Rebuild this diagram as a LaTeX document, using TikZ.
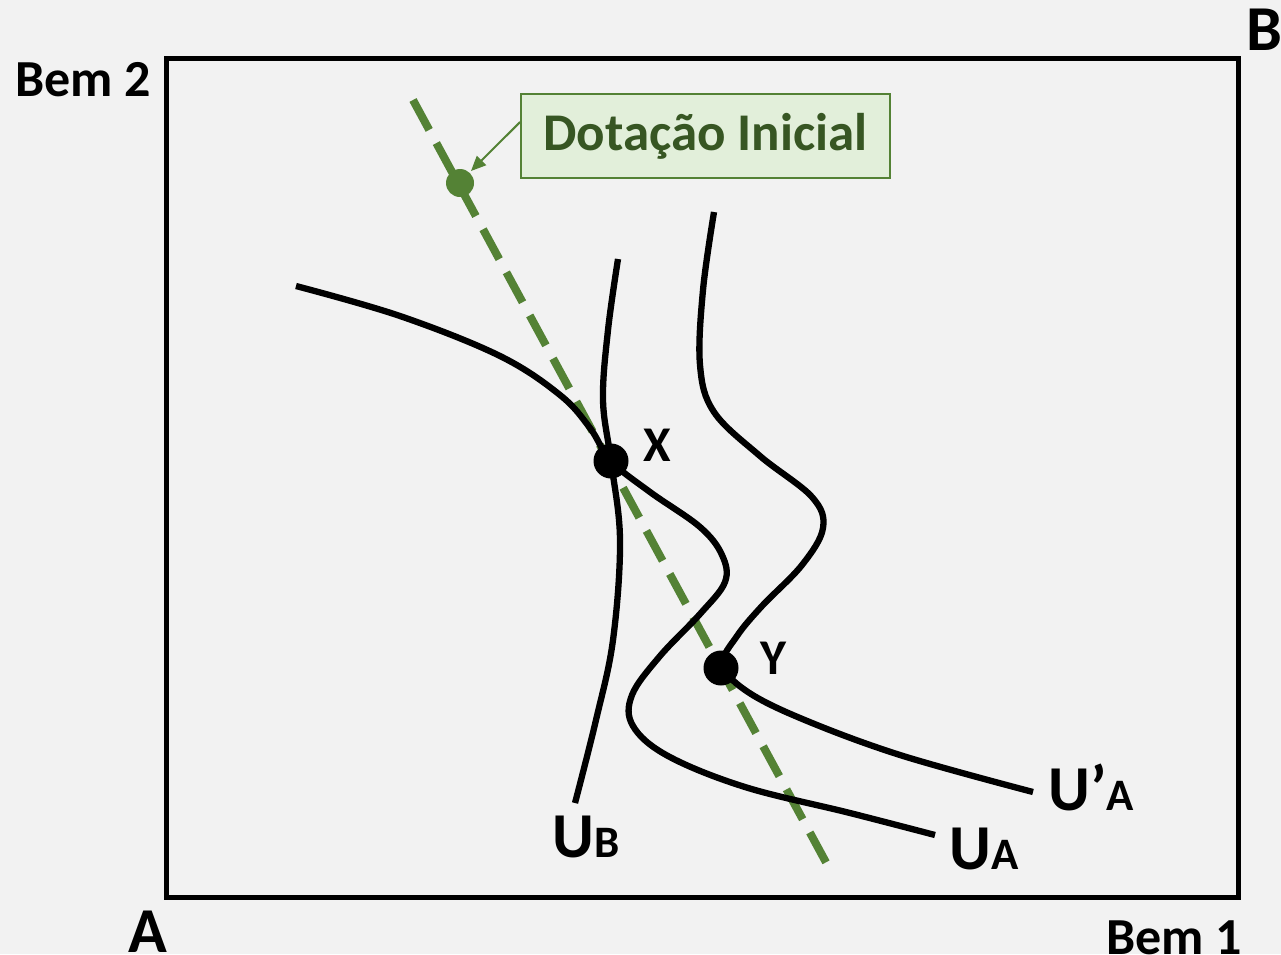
\documentclass[tikz,border=0pt]{standalone}
\usepackage{fontspec}
\setmainfont{Carlito}
\usetikzlibrary{arrows.meta}
\definecolor{bg}{HTML}{F2F2F2}
\definecolor{grn}{HTML}{548235}
\definecolor{dkgrn}{HTML}{375623}
\definecolor{ltgrn}{HTML}{E2EFDA}
\begin{document}
\begin{tikzpicture}[x=1pt,y=-1pt,
  curve/.style={line width=6.3pt,black,line cap=butt},
  lbl/.style={font=\bfseries\fontsize{52}{60}\selectfont,inner sep=0pt},
  big/.style={font=\bfseries\fontsize{64}{72}\selectfont,inner sep=0pt},
  ptlbl/.style={font=\bfseries\fontsize{50}{56}\selectfont,inner sep=0pt},
  dot/.style={circle,fill=black,minimum size=35pt,inner sep=0pt},
  gdot/.style={circle,fill=grn,minimum size=28pt,inner sep=0pt}]
% canvas
\fill[bg] (0,0) rectangle (1281,954);
\useasboundingbox (0,0) rectangle (1281,954);
% Edgeworth box
\draw[line width=5pt] (166,58) rectangle (1238,897);
\node[lbl] (bem2) at (83,80) {Bem 2};
\node[lbl] (bem1) at (1174,938) {Bem 1};
\node[big] (A) at (148,932) {A};
\node[big] (B) at (1264,30) {B};
% price line through the endowment
\coordinate (pl1) at (413,100);
\coordinate (pl2) at (828,866);
\draw[grn,line width=8pt,dash pattern=on 34pt off 15pt] (pl1) -- (pl2);
% indifference curve U_A
\draw[curve] plot[smooth,tension=0.6] coordinates {(296,286) (400,316) (500,356) (560,395) (590,428) (611,461) (650,492) (700,527) (722,555) (725,582) (700,614) (660,656) (632,695) (633,726) (668,756) (745,787) (850,813) (935,835)};
% indifference curve U_B
\draw[curve] plot[smooth,tension=0.6] coordinates {(618,259) (608,330) (603,400) (611,461) (620,540) (613,640) (596,720) (575,803)};
% indifference curve U'_A
\draw[curve] plot[smooth,tension=0.6] coordinates {(714,212) (703,290) (700,365) (714,412) (760,456) (812,497) (823,528) (802,565) (762,606) (737,636) (723,664) (745,690) (800,718) (900,755) (1033,792)};
% points
\node[gdot] (E) at (460,183) {};
\node[dot] (X) at (611,461) {};
\node[dot] (Y) at (721,668) {};
\node[ptlbl] (xl) at (657,445) {X};
\node[ptlbl] (yl) at (773,658) {Y};
% curve labels
\node[big,anchor=base] (ub) at (586,857) {U\fontsize{45}{50}\selectfont B};
\node[big,anchor=base] (ua) at (984,869) {U\fontsize{45}{50}\selectfont A};
\node[big,anchor=base] (ua2) at (1091,810) {U’\fontsize{45}{50}\selectfont A};
% endowment callout
\node[draw=grn,fill=ltgrn,line width=1.8pt,minimum width=369pt,minimum height=84pt,inner sep=0pt,
      text=dkgrn,font=\bfseries\fontsize{53}{60}\selectfont] (dot) at (705.5,136) {Dotação Inicial};
\coordinate (tip) at (471,171);
\draw[grn,line width=2pt,-{Triangle[length=15pt,width=13pt]}] (dot.west |- 0,122) -- (tip);
\end{tikzpicture}
\end{document}
